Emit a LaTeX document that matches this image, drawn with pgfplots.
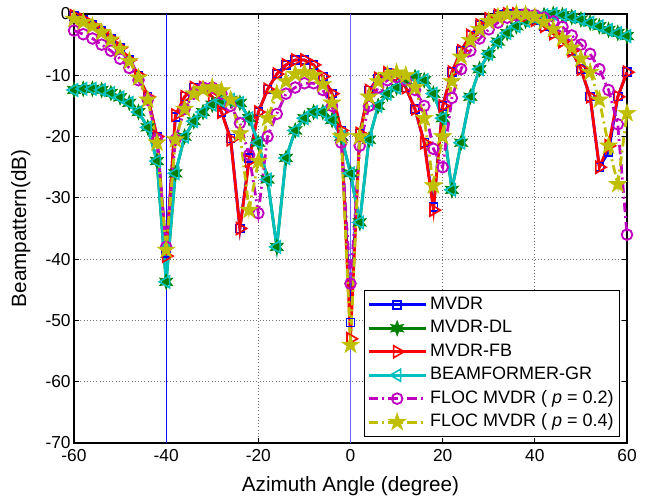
\documentclass[border=0pt]{standalone}
\usepackage{pgfplots}
\pgfplotsset{compat=1.18}
\usepackage{pgfplotstable}
\usepackage{fontspec}
\setmainfont{Liberation Sans}
\usetikzlibrary{plotmarks}

\definecolor{mblue}{rgb}{0,0,1}
\definecolor{mgreen}{rgb}{0,0.5,0}
\definecolor{mred}{rgb}{1,0,0}
\definecolor{mcyan}{rgb}{0,0.75,0.75}
\definecolor{mmag}{rgb}{0.75,0,0.75}
\definecolor{myel}{rgb}{0.75,0.75,0}

\pgfdeclareplotmark{hexagram}{%
  \pgfpathmoveto{\pgfpointpolar{90}{\pgfplotmarksize}}%
  \pgfpathlineto{\pgfpointpolar{120}{0.45*\pgfplotmarksize}}%
  \pgfpathlineto{\pgfpointpolar{150}{\pgfplotmarksize}}%
  \pgfpathlineto{\pgfpointpolar{180}{0.45*\pgfplotmarksize}}%
  \pgfpathlineto{\pgfpointpolar{210}{\pgfplotmarksize}}%
  \pgfpathlineto{\pgfpointpolar{240}{0.45*\pgfplotmarksize}}%
  \pgfpathlineto{\pgfpointpolar{270}{\pgfplotmarksize}}%
  \pgfpathlineto{\pgfpointpolar{300}{0.45*\pgfplotmarksize}}%
  \pgfpathlineto{\pgfpointpolar{330}{\pgfplotmarksize}}%
  \pgfpathlineto{\pgfpointpolar{0}{0.45*\pgfplotmarksize}}%
  \pgfpathlineto{\pgfpointpolar{30}{\pgfplotmarksize}}%
  \pgfpathlineto{\pgfpointpolar{60}{0.45*\pgfplotmarksize}}%
  \pgfpathclose
  \pgfusepathqfillstroke
}
\pgfdeclareplotmark{pentagram}{%
  \pgfpathmoveto{\pgfpointpolar{90}{\pgfplotmarksize}}%
  \pgfpathlineto{\pgfpointpolar{126}{0.382*\pgfplotmarksize}}%
  \pgfpathlineto{\pgfpointpolar{162}{\pgfplotmarksize}}%
  \pgfpathlineto{\pgfpointpolar{198}{0.382*\pgfplotmarksize}}%
  \pgfpathlineto{\pgfpointpolar{234}{\pgfplotmarksize}}%
  \pgfpathlineto{\pgfpointpolar{270}{0.382*\pgfplotmarksize}}%
  \pgfpathlineto{\pgfpointpolar{306}{\pgfplotmarksize}}%
  \pgfpathlineto{\pgfpointpolar{342}{0.382*\pgfplotmarksize}}%
  \pgfpathlineto{\pgfpointpolar{18}{\pgfplotmarksize}}%
  \pgfpathlineto{\pgfpointpolar{54}{0.382*\pgfplotmarksize}}%
  \pgfpathclose
  \pgfusepathqfillstroke
}

\pgfplotstableread{
x   mvdr  dl    fb    gr    ptwo  pfour
-60 -0.3 -12.4 -0.3 -12.4 -2.7 -0.8
-58 -0.9 -12.2 -0.9 -12.2 -3.3 -1.3
-56 -1.8 -12.2 -1.8 -12.2 -4.0 -2.0
-54 -2.8 -12.4 -2.8 -12.4 -5.0 -3.0
-52 -4.0 -12.9 -4.0 -12.9 -6.0 -4.2
-50 -5.5 -13.6 -5.5 -13.6 -7.3 -5.7
-48 -7.5 -14.5 -7.5 -14.5 -8.8 -7.7
-46 -10.0 -16.0 -10.0 -16.0 -10.8 -10.4
-44 -13.5 -18.5 -13.5 -18.5 -14.0 -14.0
-42 -20.0 -24.0 -20.0 -24.0 -20.5 -21.0
-40 -39.0 -43.7 -39.5 -43.7 -38.0 -38.5
-38 -16.8 -26.0 -16.5 -26.0 -20.5 -20.5
-36 -13.5 -20.0 -13.5 -20.0 -15.5 -15.5
-34 -12.0 -17.5 -12.0 -17.5 -13.0 -13.0
-32 -12.0 -16.0 -12.0 -16.0 -12.0 -12.3
-30 -13.5 -14.8 -13.5 -14.8 -12.0 -12.0
-28 -16.0 -14.2 -16.0 -14.2 -13.0 -12.5
-26 -20.3 -14.0 -20.5 -14.0 -15.0 -14.0
-24 -35.0 -14.5 -35.0 -14.5 -17.8 -19.5
-22 -23.5 -17.0 -24.0 -17.0 -23.0 -32.0
-20 -16.0 -21.0 -16.0 -21.0 -32.5 -24.0
-18 -12.3 -27.0 -12.3 -27.0 -20.0 -17.0
-16 -9.8 -38.0 -9.8 -38.0 -16.3 -13.0
-14 -8.3 -23.5 -8.3 -23.5 -13.0 -11.0
-12 -7.5 -19.0 -7.5 -19.0 -12.0 -9.8
-10 -7.5 -17.0 -7.5 -17.0 -11.3 -9.5
-8 -8.3 -16.0 -8.3 -16.0 -11.3 -10.0
-6 -10.2 -16.0 -10.2 -16.0 -12.4 -11.5
-4 -13.0 -17.3 -13.0 -17.3 -15.0 -14.5
-2 -19.0 -20.0 -19.0 -20.0 -21.0 -20.0
0 -50.3 -26.0 -53.0 -26.0 -44.0 -54.0
2 -19.5 -34.0 -19.5 -34.0 -21.5 -20.0
4 -12.5 -20.5 -12.5 -20.5 -15.0 -13.5
6 -10.5 -15.0 -10.5 -15.0 -12.0 -11.0
8 -9.6 -13.0 -9.6 -13.0 -10.8 -10.0
10 -10.0 -12.0 -10.0 -12.0 -10.3 -9.6
12 -12.0 -10.8 -12.0 -10.8 -10.8 -10.0
14 -15.5 -10.3 -15.5 -10.3 -12.4 -12.0
16 -21.0 -10.8 -21.0 -10.8 -15.0 -17.0
18 -31.5 -13.0 -32.0 -13.0 -22.0 -28.0
20 -15.0 -17.0 -15.0 -17.0 -25.0 -20.0
22 -9.5 -28.7 -9.5 -28.7 -13.7 -11.0
24 -6.0 -21.0 -6.0 -21.0 -9.0 -7.0
26 -3.5 -13.5 -3.5 -13.5 -6.0 -4.3
28 -1.8 -9.0 -1.8 -9.0 -4.0 -2.5
30 -0.8 -6.5 -0.8 -6.5 -2.5 -1.2
32 -0.2 -4.5 -0.2 -4.5 -1.4 -0.5
34 0.0 -3.1 0.0 -3.1 -0.6 -0.1
36 0.0 -2.0 0.0 -2.0 -0.2 0.0
38 -0.3 -1.1 -0.3 -1.1 0.0 -0.1
40 -1.0 -0.6 -1.0 -0.6 -0.2 -0.5
42 -2.0 -0.2 -2.0 -0.2 -0.6 -1.3
44 -3.2 0.0 -3.2 0.0 -1.2 -2.5
46 -4.5 -0.2 -4.5 -0.2 -2.1 -4.0
48 -6.0 -0.5 -6.0 -0.5 -3.5 -5.5
50 -9.0 -0.9 -9.0 -0.9 -5.0 -7.3
52 -13.5 -1.4 -13.5 -1.4 -6.5 -9.5
54 -25.0 -2.0 -25.0 -2.0 -9.0 -14.0
56 -22.5 -2.6 -21.5 -2.6 -12.4 -21.5
58 -13.5 -3.1 -13.5 -3.1 -18.0 -27.8
60 -9.5 -3.6 -9.5 -3.6 -36.0 -16.2
}\datatable

\begin{document}
\begin{tikzpicture}
\begin{axis}[
  scale only axis,
  width=414.75pt, height=321.75pt,
  xmin=-60, xmax=60, ymin=-70, ymax=0,
  xtick={-60,-40,...,60}, ytick={-70,-60,...,0},
  grid=major,
  grid style={dotted, black!55, line width=0.6pt},
  tick align=inside, major tick length=4pt,
  tick style={black, line width=0.6pt},
  axis line style={line width=0.8pt},
  clip=false,
  /pgf/number format/assume math mode=true,
  ticklabel style={font=\fontsize{13}{15}\selectfont},
  xticklabel style={yshift=-1.5pt},
  yticklabel style={xshift=1pt},
  xlabel={Azimuth Angle (degree)},
  ylabel={Beampattern(dB)},
  every axis x label/.style={at={(axis description cs:0.5,0)}, yshift=-32pt, anchor=center, font=\fontsize{15.5}{17}\selectfont},
  every axis y label/.style={at={(axis description cs:0,0.5)}, xshift=-40pt, rotate=90, anchor=center, font=\fontsize{15.5}{17}\selectfont},
  legend cell align=left,
  legend style={at={(0.987,0.014)}, anchor=south east, draw=black, line width=0.7pt,
    font=\fontsize{13.5}{15}\selectfont, row sep=0pt, inner sep=2pt,
    nodes={inner sep=2.3pt, text height=10pt, text depth=3pt}},
  legend image code/.code={\draw[mark repeat=2,mark phase=2,#1] plot coordinates {(0cm,0cm) (0.75cm,0cm) (1.5cm,0cm)};},
]
\addplot [mblue, line width=0.6pt, forget plot] coordinates {(-40,-70) (-40,0)};
\addplot [mblue!60, line width=0.8pt, forget plot] coordinates {(0,-70) (0,0)};

\addplot [mblue, line width=2.1pt, mark=square, mark size=3pt, mark options={solid, line width=1.1pt}] table [x=x, y=mvdr] {\datatable};
\addlegendentry{MVDR}
\addplot [mgreen, line width=2.1pt, mark=hexagram, mark size=5.8pt, mark options={solid, fill=mgreen, line width=0.4pt}] table [x=x, y=dl] {\datatable};
\addlegendentry{MVDR-DL}
\addplot [mred, line width=2.1pt, mark=triangle, mark size=5.2pt, mark options={solid, rotate=-90, line width=1.2pt}] table [x=x, y=fb] {\datatable};
\addlegendentry{MVDR-FB}
\addplot [mcyan, line width=2.1pt, mark=triangle, mark size=5.2pt, mark options={solid, rotate=90, line width=1.2pt}] table [x=x, y=gr] {\datatable};
\addlegendentry{BEAMFORMER-GR}
\addplot [mmag, line width=2.1pt, dash pattern=on 7pt off 3pt on 1.5pt off 3pt, mark=o, mark size=4pt, mark options={solid, line width=1.4pt}] table [x=x, y=ptwo] {\datatable};
\addlegendentry{FLOC MVDR ( \textit{p} = 0.2)}
\addplot [myel, line width=2.1pt, dash pattern=on 7pt off 3pt on 1.5pt off 3pt, mark=pentagram, mark size=7pt, mark options={solid, fill=myel, line width=0.4pt}] table [x=x, y=pfour] {\datatable};
\addlegendentry{FLOC MVDR ( \textit{p} = 0.4)}
\end{axis}
\pgfresetboundingbox
\path (-55.5pt,-42.75pt) rectangle (432.75pt,332.25pt);
\end{tikzpicture}
\end{document}
